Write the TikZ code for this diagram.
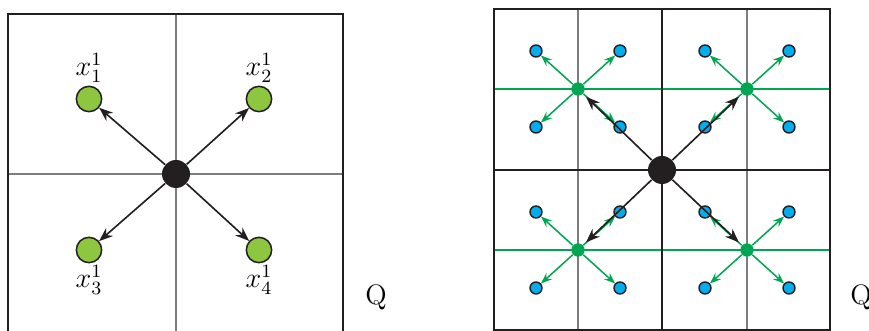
\documentclass[tikz,border=0pt]{standalone}
\usepackage{tikz}
\usetikzlibrary{arrows.meta, positioning}
\definecolor{ptgreen}{RGB}{141,198,63}
\definecolor{subgreen}{RGB}{0,166,81}
\definecolor{ptblue}{RGB}{0,174,239}
\definecolor{gridgray}{RGB}{125,125,125}
\definecolor{inkblack}{RGB}{35,31,32}
\tikzset{
  root/.style={circle, fill=inkblack, minimum size=0.42cm, inner sep=0pt},
  child/.style={circle, draw=inkblack, line width=0.65pt, fill=ptgreen, minimum size=0.38cm, inner sep=0pt},
  subroot/.style={circle, fill=subgreen, minimum size=0.2cm, inner sep=0pt},
  leaf/.style={circle, draw=inkblack, line width=0.6pt, fill=ptblue, minimum size=0.18cm, inner sep=0pt},
  outer/.style={draw=inkblack, line width=0.6pt},
  inner/.style={draw=gridgray, line width=0.45pt},
  blackarrow/.style={draw=inkblack, line width=0.7pt, -{Stealth[length=2.1mm, width=1.6mm, inset=0.7mm]}},
  greenarrow/.style={draw=subgreen, line width=0.65pt, -{Stealth[length=1.7mm, width=1.3mm, inset=0.6mm]}},
  lbl/.style={inner sep=0.5pt, font=\large}
}

\begin{document}
\begin{tikzpicture}[x=0.015cm, y=-0.015cm]
    \useasboundingbox (0,0) rectangle (869,331);

    % ==========================================
    % LEFT PANEL
    % ==========================================

    % Grid
    \draw[inner] (176,14) -- (176,345);
    \draw[inner] (8,174) -- (343,174);
    \draw[outer] (8,345) -- (8,14) -- (343,14) -- (343,345);

    % Root and children
    \node[root] (c) at (176,174) {};
    \foreach \n/\x/\y in {1/89/99, 2/259/99, 3/89/250, 4/259/250} {
        \node[child] (g\n) at (\x,\y) {};
        \draw[blackarrow] (c) -- (g\n);
    }

    % Labels
    \node[lbl, above=0.5pt of g1] (t1) {$x_1^1$};
    \node[lbl, above=0.5pt of g2] (t2) {$x_2^1$};
    \node[lbl, below=0pt of g3] (t3) {$x_3^1$};
    \node[lbl, below=0pt of g4] (t4) {$x_4^1$};

    \node[font=\large] (q1) at (376,297) {Q};

    % ==========================================
    % RIGHT PANEL
    % ==========================================

    % Grid
    \draw[inner] (578,9) -- (578,330);
    \draw[inner] (747,9) -- (747,330);
    \draw[subgreen, line width=0.6pt] (494,89) -- (830,89);
    \draw[subgreen, line width=0.6pt] (494,250) -- (830,250);
    \draw[outer] (494,9) rectangle (830,330);
    \draw[outer] (662,9) -- (662,330);
    \draw[outer] (494,170) -- (830,170);

    % Root, sub-roots and leaves
    \node[root] (C) at (662,170) {};
    \foreach \n/\x/\y in {1/578/89, 2/747/89, 3/578/250, 4/747/250} {
        \node[subroot] (s\n) at (\x,\y) {};
        \foreach \k/\dx/\dy in {1/-42/-38, 2/42/-38, 3/-42/38, 4/42/38} {
            \node[leaf] (l\n\k) at (\x+\dx,\y+\dy) {};
            \draw[greenarrow] (s\n) -- (l\n\k);
        }
    }

    % Root to sub-roots
    \foreach \n in {1,...,4} {
        \draw[blackarrow, shorten >=0.6mm] (C) -- (s\n);
    }

    \node[font=\large] (q2) at (861,297) {Q};

\end{tikzpicture}
\end{document}
